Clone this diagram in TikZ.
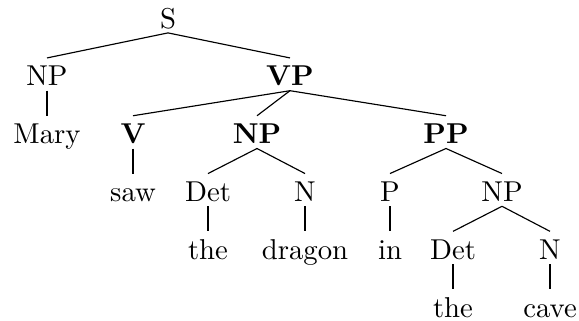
\documentclass[tikz,border=0pt]{standalone}
\begin{document}
\begin{tikzpicture}[x=0.348pt,y=-0.348pt,
  tn/.style={anchor=base,text height=8pt,text depth=0pt,inner ysep=1.5pt,inner xsep=1pt},
  edge/.style={draw=black,line width=0.4pt}]
\useasboundingbox (0,0) rectangle (579,320);
% rows baselines
\node[tn] (S) at (168,28) {S};
\node[tn] (NP1) at (47,85.8) {NP};
\node[tn] (VP) at (290,85.8) {\textbf{VP}};
\node[tn] (Mary) at (47,143.6) {Mary};
\node[tn] (V) at (133,143.6) {\textbf{V}};
\node[tn] (NP2) at (257,143.6) {\textbf{NP}};
\node[tn] (PP) at (446,143.6) {\textbf{PP}};
\node[tn] (saw) at (133,201.4) {saw};
\node[tn] (Det1) at (208,201.4) {Det};
\node[tn] (N1) at (305,201.4) {N};
\node[tn] (P) at (390,201.4) {P};
\node[tn] (NP3) at (502,201.4) {NP};
\node[tn] (the1) at (208,259.2) {the};
\node[tn] (dragon) at (305,259.2) {dragon};
\node[tn] (in) at (390,259.2) {in};
\node[tn] (Det2) at (453,259.2) {Det};
\node[tn] (N2) at (550,259.2) {N};
\node[tn] (the2) at (453,317) {the};
\node[tn] (cave) at (550,317) {cave};
\foreach \p/\c in {S/NP1,S/VP,NP1/Mary,VP/V,VP/NP2,VP/PP,V/saw,NP2/Det1,NP2/N1,PP/P,PP/NP3,Det1/the1,N1/dragon,P/in,NP3/Det2,NP3/N2,Det2/the2,N2/cave}
  \draw[edge] (\p.south) -- (\c.north);
\end{tikzpicture}
\end{document}
